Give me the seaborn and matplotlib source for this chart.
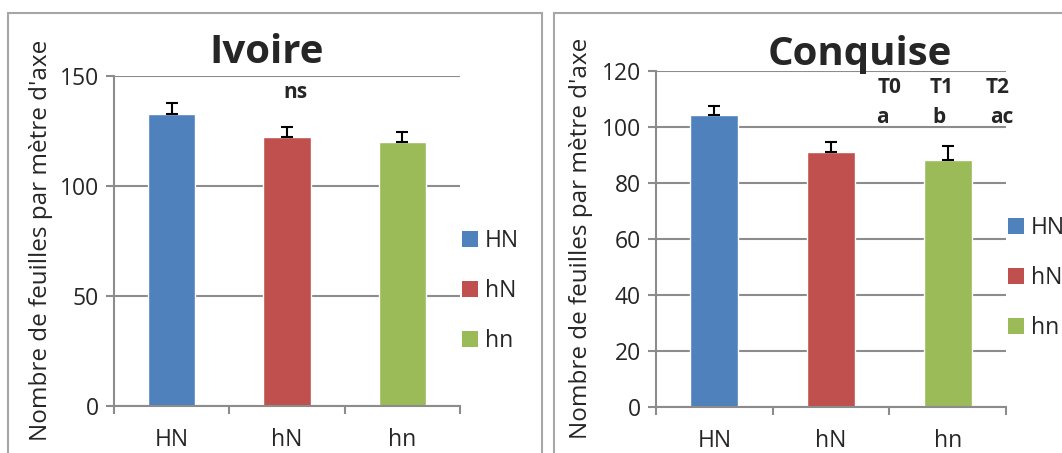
import matplotlib
matplotlib.use("Agg")
import matplotlib.pyplot as plt
from matplotlib.patches import Rectangle, Patch
import seaborn as sns
import pandas as pd

# --- data -------------------------------------------------------------
categories = ["HN", "hN", "hn"]
ivoire_values = [132.7, 122.3, 120.0]
ivoire_err = [4.9, 4.4, 4.7]
conquise_values = [104.3, 91.0, 88.2]
conquise_err = [3.3, 3.8, 4.9]
stage_labels = ["T0", "T1", "T2"]
stage_letters = ["a", "b", "ac"]
colors = ["#4F81BD", "#C0504D", "#9BBB59"]
ylabel = "Nombre de feuilles par mètre d'axe"

sns.set_theme(style="white")
plt.rcParams["font.family"] = ["Open Sans", "DejaVu Sans"]

GRID = "#8c8c8c"
FRAME = "#a6a6a6"

fig = plt.figure(figsize=(10.62, 4.53), dpi=100)

# chart-area borders (cropped at the image edge)
fig.patches.append(Rectangle((8 / 1062, -0.2), (542 - 8) / 1062, 1.2 - 13 / 453,
                             transform=fig.transFigure, fill=False, ec=FRAME, lw=1.5))
fig.patches.append(Rectangle((554 / 1062, -0.2), 0.6, 1.2 - 13 / 453,
                             transform=fig.transFigure, fill=False, ec=FRAME, lw=1.5))

ax1 = fig.add_axes([114 / 1062, (453 - 406) / 453, 346 / 1062, 330 / 453])
ax2 = fig.add_axes([656 / 1062, (453 - 407) / 453, 350 / 1062, 336 / 453])


def draw_panel(ax, values, errs, ymax, ystep, title, title_x, title_y,
               legend_x, legend_y):
    df = pd.DataFrame({"cat": categories, "val": values})
    sns.barplot(data=df, x="cat", y="val", hue="cat", palette=colors,
                width=0.41, errorbar=None, legend=False, ax=ax, saturation=1)
    ax.errorbar(range(len(categories)), values, yerr=[[0] * len(errs), errs],
                fmt="none", ecolor="black", elinewidth=1.5, capsize=4.3,
                capthick=1.5, zorder=5)
    ax.set_ylim(0, ymax)
    ax.set_xlim(-0.5, len(categories) - 0.5)
    ax.set_yticks(range(0, ymax + 1, ystep))
    ax.yaxis.grid(True, color=GRID, lw=1.5)
    ax.set_axisbelow(True)
    for s in ["top", "right"]:
        ax.spines[s].set_visible(False)
    for s in ["left", "bottom"]:
        ax.spines[s].set_color(GRID)
        ax.spines[s].set_linewidth(1.5)
    ax.tick_params(axis="y", length=6, width=1.5, color=GRID, pad=5,
                   labelsize=16.5, left=True)
    ax.tick_params(axis="x", which="major", length=0, pad=16, labelsize=16.5)
    ax.set_xticks([i - 0.5 for i in range(len(categories) + 1)], minor=True)
    ax.tick_params(axis="x", which="minor", length=6, width=1.5, color=GRID,
                   bottom=True)
    ax.set_xlabel("")
    ax.set_ylabel(ylabel, fontsize=17.5)
    ax.text(title_x, title_y, title, transform=ax.transAxes, ha="center",
            va="baseline", fontsize=29, fontweight="bold")
    handles = [Patch(facecolor=c, edgecolor="none", label=l)
               for c, l in zip(colors, categories)]
    ax.legend(handles=handles, loc="center left", frameon=False,
              bbox_to_anchor=(legend_x, legend_y),
              bbox_transform=fig.transFigure,
              fontsize=16.5, handlelength=0.7, handleheight=0.7,
              handletextpad=0.3, labelspacing=1.15, borderpad=0,
              borderaxespad=0)


draw_panel(ax1, ivoire_values, ivoire_err, 150, 50, "Ivoire", 0.442, 1.039,
           462 / 1062, (453 - 291) / 453)
draw_panel(ax2, conquise_values, conquise_err, 120, 20, "Conquise", 0.583,
           1.018, 1008 / 1062, (453 - 278) / 453)

ax1.yaxis.set_label_coords(-0.176, 0.503)
ax2.yaxis.set_label_coords(-0.18, 0.503)

# significance annotations
ax1.text(1.07, 140, "ns", ha="center", va="baseline", fontsize=15,
         fontweight="bold")
for lab, xpos in zip(stage_labels, [1.505, 1.95, 2.43]):
    ax2.text(xpos, 112.1, lab, ha="center", va="baseline", fontsize=15,
             fontweight="bold", clip_on=False)
for lab, xpos in zip(stage_letters, [1.445, 1.93, 2.465]):
    ax2.text(xpos, 101.4, lab, ha="center", va="baseline", fontsize=15,
             fontweight="bold", clip_on=False)

fig.savefig("out.png", dpi=100, facecolor="white")
